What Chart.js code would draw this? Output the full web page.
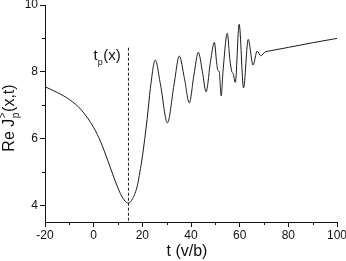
<!DOCTYPE html>
<html><head><meta charset="utf-8">
<script src="https://cdn.jsdelivr.net/npm/chart.js@4"></script>
<style>html,body{margin:0;padding:0;background:#fff}#wrap{width:346px;height:261px}</style>
</head><body><div id="wrap"><canvas id="c" width="346" height="261"></canvas></div>
<script>
// time t (v/b)
const tValues = [-20,-15,-10,-5,0,3,6,9,11,13,14.3,16,18,19,20,22,23.3,25.3,27.5,30.3,33,35.2,37.3,39.3,41.2,43,44.7,46.2,48,49.6,50.5,51.0,51.6,52.4,53.2,54.9,56,56.8,57.3,58.2,59.8,61.6,63.5,65.5,67.2,68.6,70.6,72,80,90,100];
// Re J>_p(x,t)
const reJValues = [7.55,7.38,7.17,6.85,6.33,5.88,5.3,4.7,4.35,4.12,4.07,4.2,4.6,5.0,5.45,6.6,7.5,8.35,7.6,6.47,7.6,8.47,7.8,7.07,7.9,8.58,8.0,7.4,8.3,8.88,8.3,8.05,8.0,7.28,8.05,9.15,8.35,8.0,7.95,7.68,9.42,7.52,8.97,8.2,8.62,8.48,8.6,8.62,8.73,8.87,9.0];
// marker line t_p(x)
const tpT = [14.3, 14.3];
const tpV = [8.72, 3.5];
const xTicks = [-20,0,20,40,60,80,100];
const yTicks = [4,6,8,10];
const xMinor = [-10,10,30,50,70,90];
const yMinor = [5,7,9];

const FONT = "'Liberation Sans', Arial, sans-serif";
const ink = '#111';

const decor = {
  id: 'decor',
  afterDraw(chart) {
    const ctx = chart.ctx;
    const xs = chart.scales.x, ys = chart.scales.y;
    ctx.save();
    ctx.strokeStyle = ink; ctx.lineWidth = 1;
    // minor ticks
    xMinor.forEach(v => {
      const px = Math.round(xs.getPixelForValue(v)) + 0.5;
      ctx.beginPath(); ctx.moveTo(px, ys.bottom); ctx.lineTo(px, ys.bottom + 3); ctx.stroke();
    });
    yMinor.forEach(v => {
      const py = Math.round(ys.getPixelForValue(v)) + 0.5;
      ctx.beginPath(); ctx.moveTo(xs.left, py); ctx.lineTo(xs.left - 3, py); ctx.stroke();
    });
    ctx.fillStyle = ink;
    // x title
    ctx.font = '16px ' + FONT;
    ctx.textAlign = 'center'; ctx.textBaseline = 'alphabetic';
    ctx.fillText('t (v/b)', 187, 256);
    // y title (rotated, with sup/sub)
    ctx.save();
    ctx.translate(14, 118);
    ctx.rotate(-Math.PI / 2);
    ctx.textAlign = 'left';
    const big = '16px ' + FONT, small = '10px ' + FONT;
    ctx.font = big; const w1 = ctx.measureText('Re J').width;
    ctx.font = small; const ws = Math.max(ctx.measureText('>').width, ctx.measureText('p').width);
    ctx.font = big; const w2 = ctx.measureText('(x,t)').width;
    let x0 = -(w1 + ws + 1 + w2) / 2;
    ctx.font = big; ctx.fillText('Re J', x0, 0);
    ctx.font = small; ctx.fillText('>', x0 + w1 + 0.5, -8); ctx.fillText('p', x0 + w1 + 0.5, 5);
    ctx.font = big; ctx.fillText('(x,t)', x0 + w1 + ws + 1, 0);
    ctx.restore();
    // t_p(x) label
    ctx.textAlign = 'left';
    ctx.font = '15px ' + FONT;
    ctx.fillText('t', 93.5, 60);
    const wt = ctx.measureText('t').width;
    ctx.font = '9px ' + FONT;
    ctx.fillText('p', 93.5 + wt, 65);
    const wp = ctx.measureText('p').width;
    ctx.font = '15px ' + FONT;
    ctx.fillText('(x)', 93.5 + wt + wp + 0.5, 60);
    ctx.restore();
  }
};

new Chart(document.getElementById('c'), {
  type: 'line',
  data: {
    datasets: [
      { data: tValues.map((t, i) => ({ x: t, y: reJValues[i] })), borderColor: '#1a1a1a', borderWidth: 1, pointRadius: 0, cubicInterpolationMode: 'monotone', fill: false },
      { data: tpT.map((t, i) => ({ x: t, y: tpV[i] })), borderColor: '#1a1a1a', borderWidth: 1, borderDash: [3, 2], pointRadius: 0, fill: false }
    ]
  },
  options: {
    responsive: false, animation: false, events: [],
    layout: { padding: { left: 0, right: 9, top: 5, bottom: 0 } },
    plugins: { legend: { display: false }, tooltip: { enabled: false } },
    scales: {
      x: {
        type: 'linear', min: -20, max: 100,
        afterBuildTicks: s => { s.ticks = xTicks.map(v => ({ value: v })); },
        afterFit: s => { s.height = 39; s.paddingLeft = 0; s.paddingRight = 0; },
        border: { display: true, color: ink, width: 1 },
        grid: { display: true, drawOnChartArea: false, drawTicks: true, tickLength: 5, tickColor: ink },
        ticks: { color: ink, font: { family: FONT, size: 12 }, padding: 1, maxRotation: 0 }
      },
      y: {
        type: 'linear', min: 3.5, max: 10,
        afterBuildTicks: s => { s.ticks = yTicks.map(v => ({ value: v })); },
        afterFit: s => { s.width = 45; s.paddingTop = 0; s.paddingBottom = 0; },
        border: { display: true, color: ink, width: 1 },
        grid: { display: true, drawOnChartArea: false, drawTicks: true, tickLength: 5, tickColor: ink },
        ticks: { color: ink, font: { family: FONT, size: 12 }, padding: 2 }
      }
    }
  },
  plugins: [decor]
});
</script></body></html>
